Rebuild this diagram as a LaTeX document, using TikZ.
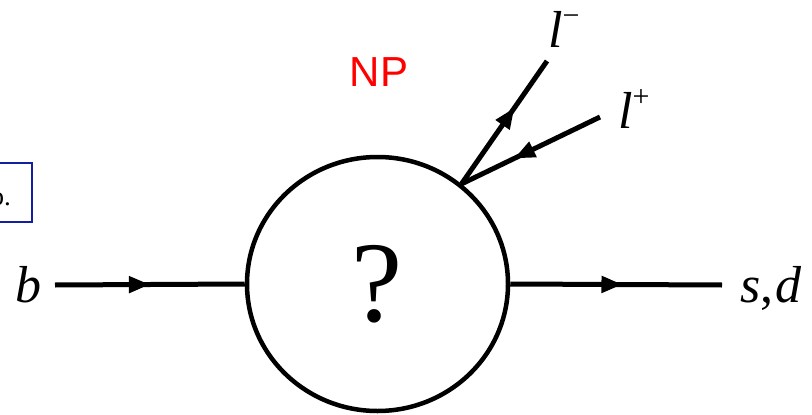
\documentclass[tikz,border=0pt]{standalone}
\usepackage{fontspec}
\setmainfont{Liberation Serif}
\newfontfamily\npfont{Liberation Sans}
\usetikzlibrary{arrows.meta, decorations.markings, shapes.geometric}
\definecolor{boxblue}{RGB}{20,30,160}
\newcommand{\lepton}[1]{\textit{l}\raisebox{22pt}{\fontsize{30}{30}\selectfont #1}}

\tikzset{
  fline/.style={line width=5pt, postaction={decorate},
    decoration={markings, mark=at position #1 with {\arrow{Triangle[length=21pt,width=16pt]}}}},
  fline/.default=0.5,
  lbl/.style={anchor=base west, inner sep=0pt, font=\fontsize{52}{52}\selectfont},
}

\begin{document}
\begin{tikzpicture}[x=1pt, y=-1pt]
  \useasboundingbox (0,0) rectangle (812,415);
  % cut-off box on the left
  \draw[boxblue, line width=2pt] (-60,163) rectangle (32,222);
  \node[anchor=base east, inner sep=0pt, font=\fontsize{27}{27}\selectfont] (tag) at (11,205) {b.};
  % blob
  \node[ellipse, draw, line width=4.5pt, minimum width=261pt, minimum height=254pt,
        font=\fontsize{115}{115}\selectfont] (blob) at (377.5,284) {?};
  \node[text=red, font=\npfont\fontsize{42}{42}\selectfont] (np) at (379,72) {NP};
  % end points
  \coordinate (bin) at (55,285);
  \coordinate (sout) at (722,285);
  \coordinate (lmend) at (547,61);
  \coordinate (lpend) at (600,117);
  % quark lines
  \draw[fline=0.5] (bin) -- (blob.west);
  \draw[fline=0.53] (blob.east) -- (sout);
  % lepton lines
  \draw[fline=0.62] (blob.50) -- (lmend);
  \draw[fline=0.62] (lpend) -- (blob.50);
  % labels
  \node[lbl] (bl) at (15,302) {\textit{b}};
  \node[lbl] (sdl) at (740,302) {\textit{s},\kern2pt\textit{d}};
  \node[lbl] (lml) at (548,47) {\lepton{−}};
  \node[lbl] (lpl) at (618,128) {\lepton{+}};
\end{tikzpicture}
\end{document}
